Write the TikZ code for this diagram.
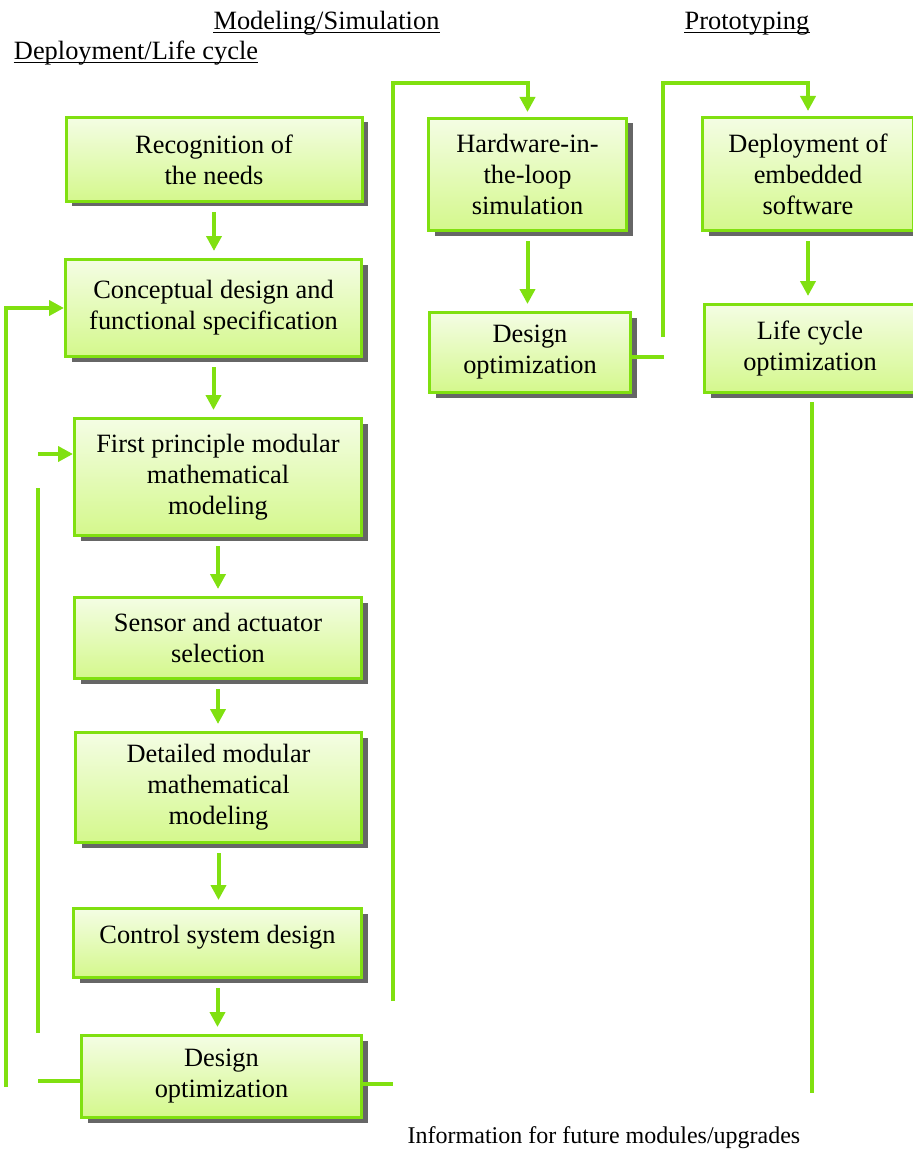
\documentclass[tikz,border=0pt]{standalone}
\usepackage{fontspec}
\setmainfont{Liberation Serif}
\usetikzlibrary{arrows.meta,shadows}

\definecolor{flowgreen}{RGB}{128,224,16}
\definecolor{boxtop}{RGB}{244,253,228}
\definecolor{boxbottom}{RGB}{212,248,140}

\begin{document}
\begin{tikzpicture}[
  x=0.5pt,
  y=-0.5pt,
  every node/.style={font=\fontsize{13.2}{15.5}\selectfont, inner sep=0pt},
  stage/.style={draw=flowgreen, line width=1.5pt, top color=boxtop, bottom color=boxbottom,
    align=center, drop shadow={shadow xshift=3pt, shadow yshift=-2.5pt, fill=black!60, opacity=1}},
  flow/.style={-{Triangle[width=7.5pt,length=7.5pt]}, draw=flowgreen, line width=2pt},
  gap/.style={shorten <=4.5pt, shorten >=3.5pt},
  link/.style={draw=flowgreen, line width=2pt},
  heading/.style={anchor=base},
  rule/.style={line width=0.7pt}
]
  \useasboundingbox (0,0) rectangle (913,1155);

  \node[heading] (modsim) at (326.5,30) {Modeling/Simulation};
  \node[heading] (proto) at (747,30) {Prototyping};
  \node[heading] (deploy) at (136,60) {Deployment/Life cycle};
  \foreach \t in {modsim,proto,deploy} {
    \draw[rule] ([yshift=-1.3pt]\t.base west) -- ([yshift=-1.3pt]\t.base east);
  }

  % design column
  \node[stage, minimum width=148pt, minimum height=42pt] (b1) at (214,159.5) {Recognition of\\the needs};
  \node[stage, minimum width=148pt, minimum height=48.5pt] (b2) at (213.5,308) {Conceptual design and\\functional specification};
  \node[stage, minimum width=143.5pt, minimum height=58.5pt] (b3) at (218,477) {First principle modular\\mathematical\\modeling};
  \node[stage, minimum width=143.5pt, minimum height=40.5pt] (b4) at (218,638) {Sensor and actuator\\selection};
  \node[stage, minimum width=143pt, minimum height=55pt] (b5) at (218.5,787.5) {Detailed modular\\mathematical\\modeling};
  \node[stage, minimum width=144pt, minimum height=34.5pt, text height=6pt, text depth=6pt] (b6) at (217.5,943) {Control system design};
  \node[stage, minimum width=140pt, minimum height=41pt] (b7) at (221.5,1076.5) {Design\\optimization};

  % simulation and prototyping columns
  \node[stage, minimum width=99pt, minimum height=56pt] (h1) at (527.5,174.5) {Hardware-in-\\the-loop\\simulation};
  \node[stage, minimum width=100.5pt, minimum height=40pt] (h2) at (530,352.5) {Design\\optimization};
  \node[stage, minimum width=105.5pt, minimum height=56.5pt] (p1) at (808,174) {Deployment of\\embedded\\software};
  \node[stage, minimum width=105.5pt, minimum height=44pt] (p2) at (810,348.5) {Life cycle\\optimization};

  \node[heading, font=\fontsize{12}{14}\selectfont] (info) at (604,1143) {Information for future modules/upgrades};

  \foreach \a/\b in {b1/b2,b2/b3,b3/b4,b4/b5,b5/b6,b6/b7,h1/h2,p1/p2} {
    \draw[flow, gap] (\a.south) -- (\a.south |- \b.north);
  }

  % feedback loops
  \coordinate (outerlow) at (6,1087);
  \draw[flow] (outerlow) |- (b2.west);
  \coordinate (b7in) at (38,1081);
  \draw[link] (b7.west |- b7in) -- (b7in);
  \coordinate (innerlow) at (38,1033);
  \coordinate (innerhigh) at (38,488);
  \draw[link] (innerlow) -- (innerhigh);
  \coordinate (b3feed) at (38,454);
  \draw[flow] (b3feed) -- (b3feed -| b3.west);

  % forward to simulation
  \coordinate (b7out) at (393,1084);
  \draw[link] (b7.east |- b7out) -- (b7out);
  \coordinate (simlow) at (393,1001);
  \coordinate (simtop) at (393,83);
  \draw[flow, shorten >=2.5pt] (simlow) -- (simtop) -| (h1.north);

  % forward to prototyping
  \coordinate (h2out) at (664,357);
  \draw[link] (h2.east |- h2out) -- (h2out);
  \coordinate (protolow) at (663,337);
  \coordinate (prototop) at (663,83);
  \draw[flow, shorten >=2.5pt] (protolow) -- (prototop) -| (p1.north);

  \coordinate (futurelow) at (812,1093);
  \draw[link, shorten <=4pt] (p2.south -| futurelow) -- (futurelow);
\end{tikzpicture}
\end{document}
